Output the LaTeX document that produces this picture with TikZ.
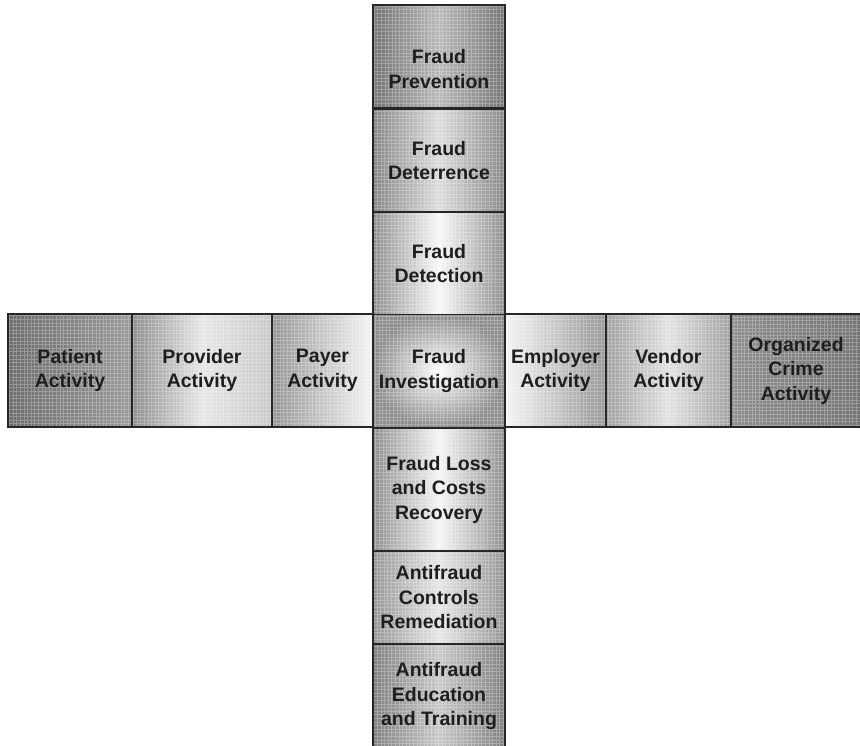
\documentclass[tikz,border=0pt]{standalone}
\usepackage{fontspec}
\setmainfont{Liberation Sans}
\definecolor{txt}{HTML}{1E1E1E}
\tikzset{
  cell/.style={draw=black!85, line width=1.4pt, inner sep=0pt, align=center,
    text=txt, font=\bfseries\fontsize{19.5}{24.5}\selectfont,
    path picture={\draw[white, opacity=0.28, line width=0.7pt]
      (path picture bounding box.south west) grid[step=3.6pt]
      (path picture bounding box.north east);}},
  vcell/.style={cell, minimum width=132pt},
  hcell/.style={cell, minimum height=113pt},
  vshade/.style args={#1/#2}{left color=black!#1, right color=black!#1, middle color=black!#2},
}
\begin{document}
\begin{tikzpicture}[x=1pt,y=-1pt]
\useasboundingbox (0,0) rectangle (860,745);
% horizontal row
\node[hcell, minimum width=124pt, left color=black!58, right color=black!40] (patient) at (70,370.5) {Patient\\Activity};
\node[hcell, minimum width=140pt, left color=black!45, right color=black!22, middle color=black!10] (provider) at (202,370.5) {Provider\\Activity};
\node[hcell, minimum width=101pt, left color=black!42, right color=black!4] (payer) at (322.5,370.5) {Payer\\Activity};
\node[hcell, minimum width=101pt, left color=black!4, right color=black!42] (employer) at (555.5,370.5) {Employer\\Activity};
\node[hcell, minimum width=125pt, vshade=38/12] (vendor) at (668.5,370.5) {Vendor\\Activity};
\node[hcell, minimum width=130pt, left color=black!45, right color=black!55] (organized) at (796,370.5) {Organized\\Crime\\Activity};
% vertical column
\node[vcell, minimum height=103pt, vshade=55/28] (prevention) at (439,56.5) {};
\node[font=\bfseries\fontsize{19.5}{24.5}\selectfont, text=txt, align=center] (prevtext) at (439,69) {Fraud\\Prevention};
\node[vcell, minimum height=103pt, vshade=48/14] (deterrence) at (439,160.5) {Fraud\\Deterrence};
\node[vcell, minimum height=103pt, vshade=45/3] (detection) at (439,263.5) {Fraud\\Detection};
\node[vcell, minimum height=113pt, inner color=white, outer color=black!45] (investigation) at (439,371) {Fraud\\Investigation};
\node[vcell, minimum height=123pt, vshade=45/4] (loss) at (439,489.5) {Fraud Loss\\and Costs\\Recovery};
\node[vcell, minimum height=93pt, vshade=42/10] (controls) at (439,597.5) {Antifraud\\Controls\\Remediation};
\node[vcell, minimum height=104pt, vshade=50/22] (education) at (439,696) {Antifraud\\Education\\and Training};
\end{tikzpicture}
\end{document}
